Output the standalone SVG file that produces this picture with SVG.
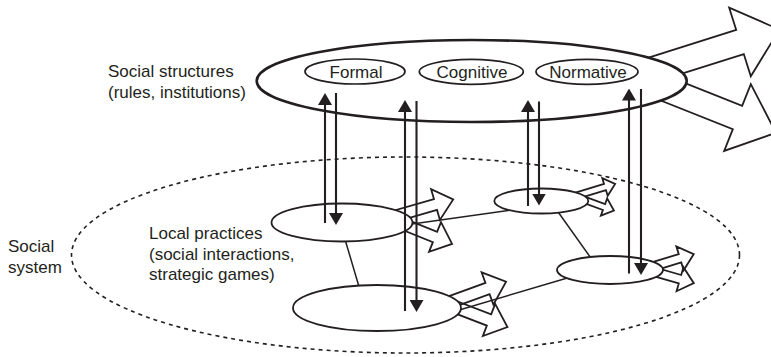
<svg xmlns="http://www.w3.org/2000/svg" xmlns:xlink="http://www.w3.org/1999/xlink" width="771" height="357" viewBox="0 0 771 357">
<style>
text{font-family:"Liberation Sans",Arial,sans-serif;font-size:17px;fill:#231f20}
.mid{text-anchor:middle}
.big{fill:#fff;stroke:#231f20;stroke-width:2.6}
.inner{fill:#fff;stroke:#231f20;stroke-width:1.7}
.loc{fill:#fff;stroke:#231f20;stroke-width:1.8}
.sys{fill:none;stroke:#231f20;stroke-width:1.6;stroke-dasharray:4 4}
.fat{fill:none;stroke:#231f20;stroke-width:1.8;stroke-linejoin:miter;vector-effect:non-scaling-stroke}
.link{stroke:#231f20;stroke-width:1.5;fill:none}
.vert{stroke:#231f20;stroke-width:2.1;fill:none;marker-end:url(#ah)}
</style>
<defs>
<marker id="ah" viewBox="0 0 12 14" refX="9" refY="7" markerWidth="12" markerHeight="14" orient="auto" markerUnits="userSpaceOnUse">
<path d="M0,0 L12,7 L0,14 z" fill="#231f20"/>
</marker>
<path id="fa" class="fat" d="M-40,-3.5 L0,-3.5 L0,-10 L11.5,0 L0,10 L0,3.5 L-40,3.5"/>
</defs>

<g id="social-system">
<ellipse class="sys" cx="405.5" cy="255" rx="334" ry="98"/>
<text x="8" y="251.5">Social</text>
<text x="8" y="272.5">system</text>
</g>

<g id="structure-outputs">
<use xlink:href="#fa" transform="translate(740,42) rotate(-17.5) scale(3.6)"/>
<use xlink:href="#fa" transform="translate(737.5,117.5) rotate(21.7) scale(3.6)"/>
</g>

<g id="social-structures">
<ellipse class="big" cx="471.7" cy="81" rx="215" ry="41"/>
<text x="108" y="77">Social structures</text>
<text x="108" y="98">(rules, institutions)</text>
</g>
<g id="formal">
<ellipse class="inner" cx="355" cy="71.5" rx="50" ry="12.5"/>
<text class="mid" x="356" y="77.5">Formal</text>
</g>
<g id="cognitive">
<ellipse class="inner" cx="471.3" cy="71.8" rx="52" ry="12.5"/>
<text class="mid" x="472" y="77.5">Cognitive</text>
</g>
<g id="normative">
<ellipse class="inner" cx="587" cy="71.8" rx="51" ry="12.5"/>
<text class="mid" x="588" y="77.5">Normative</text>
</g>

<g id="connectors">
<line class="link" x1="405" y1="225.1" x2="515" y2="209.5"/>
<line class="link" x1="344" y1="236" x2="360" y2="290"/>
<line class="link" x1="556" y1="209" x2="593" y2="261"/>
<line class="link" x1="455" y1="311.2" x2="575" y2="275.8"/>
</g>

<g id="practice-outputs">
<use xlink:href="#fa" transform="translate(435.5,204.5) rotate(-16) scale(1.6)"/>
<use xlink:href="#fa" transform="translate(435,237) rotate(22) scale(1.6)"/>
<use xlink:href="#fa" transform="translate(487.5,288.5) rotate(-20) scale(1.72)"/>
<use xlink:href="#fa" transform="translate(489,320) rotate(21) scale(1.72)"/>
<use xlink:href="#fa" transform="translate(605,187) rotate(-17) scale(0.92)"/>
<use xlink:href="#fa" transform="translate(604,207) rotate(20) scale(0.92)"/>
<use xlink:href="#fa" transform="translate(680,258.3) rotate(-17) scale(1.25)"/>
<use xlink:href="#fa" transform="translate(680,279.2) rotate(16) scale(1.25)"/>
</g>

<g id="practice-1">
<ellipse class="loc" cx="342" cy="222.5" rx="70.5" ry="19"/>
<text x="149" y="239">Local practices</text>
<text x="149" y="259.5">(social interactions,</text>
<text x="149" y="280">strategic games)</text>
</g>
<g id="practice-2">
<ellipse class="loc" cx="377" cy="308" rx="84" ry="23"/>
</g>
<g id="practice-3">
<ellipse class="loc" cx="541.3" cy="201" rx="47" ry="12.5"/>
</g>
<g id="practice-4">
<ellipse class="loc" cx="610" cy="270" rx="53" ry="14"/>
</g>

<g id="vertical-arrows">
<path class="vert" d="M325,223 L325,96"/>
<path class="vert" d="M336,93 L336,222"/>
<path class="vert" d="M405,311 L405,103"/>
<path class="vert" d="M416.5,101 L416.5,309"/>
<path class="vert" d="M528,206 L528,103"/>
<path class="vert" d="M539,101.5 L539,202.5"/>
<path class="vert" d="M629,273.5 L629,91.5"/>
<path class="vert" d="M641,89 L641,272"/>
</g>
</svg>
